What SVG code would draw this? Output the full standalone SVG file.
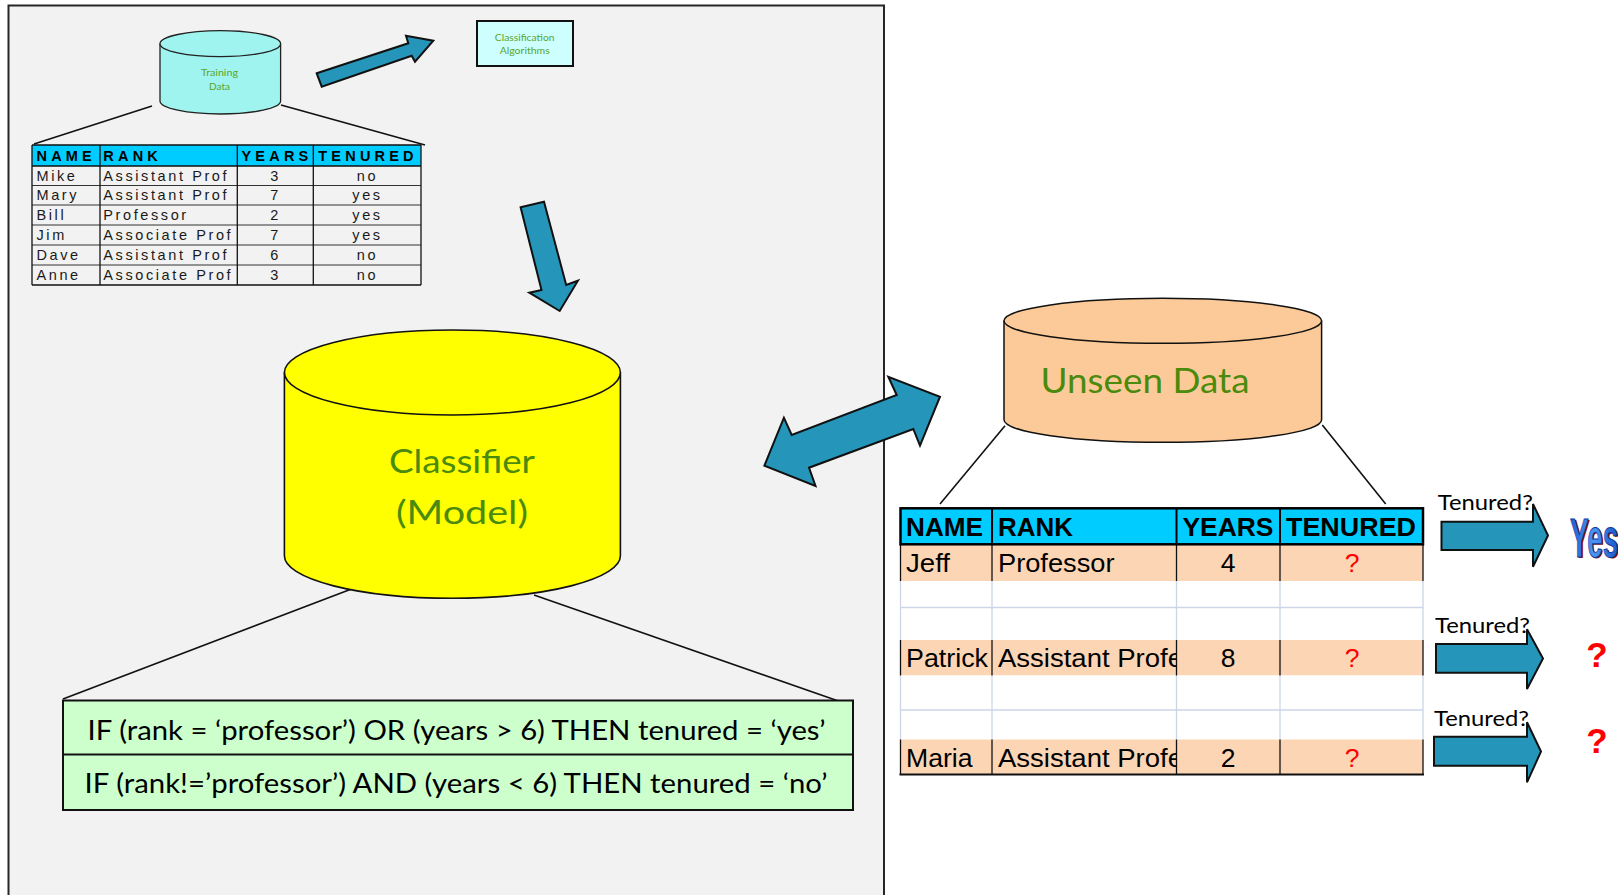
<svg xmlns="http://www.w3.org/2000/svg" width="1618" height="895" viewBox="0 0 1618 895">
<defs>
<style>
.cal{font-family:Lato,"Open Sans","Liberation Sans",sans-serif;}
.green{fill:#4a8a0c;}
.lgreen{fill:#5aa52a;}
.barrow{fill:#2596b9;stroke:#111;stroke-width:2;stroke-linejoin:miter;}
.conn{stroke:#111;stroke-width:1.6;fill:none;}
.th{font-family:"Liberation Sans",Arial,sans-serif;font-weight:bold;font-size:14.5px;letter-spacing:4.2px;fill:#000;}
.td{font-family:"Liberation Sans",Arial,sans-serif;font-size:14.5px;letter-spacing:2.6px;fill:#1a1a1a;}
.tdc{font-family:"Liberation Sans",Arial,sans-serif;font-size:14.5px;fill:#1a1a1a;text-anchor:middle;}
.uh{font-family:"Liberation Sans",Arial,sans-serif;font-weight:bold;font-size:26.5px;fill:#000;}
.ud{font-family:"Liberation Sans",Arial,sans-serif;font-size:26.5px;fill:#000;}
.uq{font-family:"Liberation Sans",Arial,sans-serif;font-size:26.5px;fill:#ff0000;text-anchor:middle;}
.ten{font-family:Lato,"Open Sans",sans-serif;font-size:21px;fill:#000;}
.rq{font-family:"Liberation Sans",Arial,sans-serif;font-weight:bold;font-size:35px;fill:#ff0000;text-anchor:middle;}
.tgrid{stroke:#111;stroke-width:1.3;}
.lgrid{stroke:#cdd6e6;stroke-width:1.3;}
</style>
<linearGradient id="yesg" x1="0" y1="0" x2="1" y2="0">
<stop offset="0" stop-color="#1d5fd6"/>
<stop offset="0.5" stop-color="#4d95f2"/>
<stop offset="1" stop-color="#1b56c8"/>
</linearGradient>
<clipPath id="rankclip"><rect x="992" y="600" width="184.5" height="180"/></clipPath>
</defs>

<rect x="0" y="0" width="1618" height="895" fill="#ffffff"/>

<g id="panel">
<rect x="8.5" y="5.5" width="875.5" height="900" fill="#f2f2f2" stroke="#262626" stroke-width="2"/>
</g>

<g id="connectors">
<line class="conn" x1="152" y1="106" x2="34" y2="144" stroke-width="2"/>
<line class="conn" x1="281" y1="105" x2="425" y2="145" stroke-width="2"/>
<line class="conn" x1="357.4" y1="586.7" x2="63" y2="699"/>
<line class="conn" x1="534" y1="595" x2="852.7" y2="706"/>
<line class="conn" x1="1005" y1="425.7" x2="940" y2="504"/>
<line class="conn" x1="1322.3" y1="425" x2="1385.7" y2="504"/>
<polygon id="arrow-train-algo" class="barrow" points="316.7,73.3 408.3,43.3 406,35.7 433.3,40.7 415,61.7 411.7,55.7 321.7,86.7"/>
<polygon id="arrow-down" class="barrow" points="520.6,207.3 544,201.7 566.2,285 577.9,280.7 559.7,311 529.3,292.7 541.5,290"/>
<polygon id="arrow-double" class="barrow" points="764.4,465.7 783.9,417.7 791.7,435 896.7,395 888.3,376.7 940,396.7 920,445.7 913.3,429 809,467.7 815.5,486"/>
<polygon id="arrow-t1" class="barrow" points="1441.5,521.7 1533,521.7 1533,504 1548,535.5 1533,566.7 1533,550 1441.5,550"/>
<polygon id="arrow-t2" class="barrow" points="1436,644 1527,644 1527,629.3 1543,658.5 1527,689 1527,672.7 1436,672.7"/>
<polygon id="arrow-t3" class="barrow" points="1434,736.7 1527,736.7 1527,722.3 1541,751.5 1527,782.3 1527,765.7 1434,765.7"/>
</g>

<g id="training-data">
<path d="M160,43.7 L160,101 A60.3,13 0 0 0 280.6,101 L280.6,43.7" fill="#a0f4f0" stroke="#222" stroke-width="1.3"/>
<ellipse cx="220.3" cy="43.7" rx="60.3" ry="13" fill="#a0f4f0" stroke="#222" stroke-width="1.3"/>
<text class="cal lgreen" x="219.5" y="76" font-size="10" text-anchor="middle" textLength="37" lengthAdjust="spacingAndGlyphs">Training</text>
<text class="cal lgreen" x="219.5" y="89.5" font-size="10" text-anchor="middle" textLength="21" lengthAdjust="spacingAndGlyphs">Data</text>
</g>

<g id="classification-algorithms">
<rect x="477" y="21" width="96" height="45" fill="#ccfffe" stroke="#111" stroke-width="2"/>
<text class="cal lgreen" x="524.7" y="41" font-size="9.5" text-anchor="middle" textLength="59.7" lengthAdjust="spacingAndGlyphs">Classification</text>
<text class="cal lgreen" x="524.7" y="54" font-size="9.5" text-anchor="middle" textLength="50" lengthAdjust="spacingAndGlyphs">Algorithms</text>
</g>

<g id="training-table">
<rect x="32" y="145" width="389" height="21" fill="#00ccff"/>
<line class="tgrid" x1="32" y1="145" x2="421" y2="145" stroke-width="1.6"/>
<line class="tgrid" x1="32" y1="166" x2="421" y2="166" stroke-width="1.6"/>
<line x1="32" y1="185.5" x2="421" y2="185.5" stroke="#333" stroke-width="1.1"/>
<line x1="32" y1="205" x2="421" y2="205" stroke="#333" stroke-width="1.1"/>
<line x1="32" y1="225" x2="421" y2="225" stroke="#333" stroke-width="1.1"/>
<line x1="32" y1="245" x2="421" y2="245" stroke="#333" stroke-width="1.1"/>
<line x1="32" y1="265" x2="421" y2="265" stroke="#333" stroke-width="1.1"/>
<line class="tgrid" x1="32" y1="285" x2="421" y2="285" stroke-width="1.8"/>
<line class="tgrid" x1="32" y1="145" x2="32" y2="285"/>
<line class="tgrid" x1="100" y1="145" x2="100" y2="285"/>
<line class="tgrid" x1="237.3" y1="145" x2="237.3" y2="285"/>
<line class="tgrid" x1="313.3" y1="145" x2="313.3" y2="285"/>
<line class="tgrid" x1="421" y1="145" x2="421" y2="285"/>
<text class="th" x="36.5" y="160.5">NAME</text>
<text class="th" x="103.3" y="160.5">RANK</text>
<text class="th" x="241.5" y="160.5">YEARS</text>
<text class="th" x="318.3" y="160.5">TENURED</text>
<text class="td" x="36.5" y="180.5">Mike</text>
<text class="td" x="103.3" y="180.5">Assistant Prof</text>
<text class="tdc" x="274.3" y="180.5">3</text>
<text class="td" x="367.5" y="180.5" text-anchor="middle">no</text>
<text class="td" x="36.5" y="200">Mary</text>
<text class="td" x="103.3" y="200">Assistant Prof</text>
<text class="tdc" x="274.3" y="200">7</text>
<text class="td" x="367.5" y="200" text-anchor="middle">yes</text>
<text class="td" x="36.5" y="220">Bill</text>
<text class="td" x="103.3" y="220">Professor</text>
<text class="tdc" x="274.3" y="220">2</text>
<text class="td" x="367.5" y="220" text-anchor="middle">yes</text>
<text class="td" x="36.5" y="240">Jim</text>
<text class="td" x="103.3" y="240">Associate Prof</text>
<text class="tdc" x="274.3" y="240">7</text>
<text class="td" x="367.5" y="240" text-anchor="middle">yes</text>
<text class="td" x="36.5" y="260">Dave</text>
<text class="td" x="103.3" y="260">Assistant Prof</text>
<text class="tdc" x="274.3" y="260">6</text>
<text class="td" x="367.5" y="260" text-anchor="middle">no</text>
<text class="td" x="36.5" y="279.8">Anne</text>
<text class="td" x="103.3" y="279.8">Associate Prof</text>
<text class="tdc" x="274.3" y="279.8">3</text>
<text class="td" x="367.5" y="279.8" text-anchor="middle">no</text>
</g>

<g id="classifier">
<path d="M284.4,372.5 L284.4,555.8 A168,42.5 0 0 0 620.4,555.8 L620.4,372.5" fill="#ffff00" stroke="#111" stroke-width="1.6"/>
<ellipse cx="452.4" cy="372.5" rx="168" ry="42.5" fill="#ffff00" stroke="#111" stroke-width="1.6"/>
<text class="cal green" x="462" y="473" font-size="32" text-anchor="middle" textLength="146" lengthAdjust="spacingAndGlyphs">Classifier</text>
<text class="cal green" x="462" y="524" font-size="32" text-anchor="middle" textLength="132" lengthAdjust="spacingAndGlyphs">(Model)</text>
</g>

<g id="rules">
<rect x="63" y="700.5" width="790" height="109.5" fill="#ccffcc" stroke="#111" stroke-width="2"/>
<line x1="63" y1="754.5" x2="853" y2="754.5" stroke="#111" stroke-width="2"/>
<text class="cal" x="456.6" y="740" font-size="27" text-anchor="middle" fill="#000" textLength="738" lengthAdjust="spacingAndGlyphs">IF (rank = ‘professor’) OR (years &gt; 6) THEN tenured = ‘yes’</text>
<text class="cal" x="456.1" y="793.3" font-size="27" text-anchor="middle" fill="#000" textLength="743" lengthAdjust="spacingAndGlyphs">IF (rank!=’professor’) AND (years &lt; 6) THEN tenured = ‘no’</text>
</g>

<g id="unseen-data">
<path d="M1004,320.8 L1004,419.8 A158.8,22.5 0 0 0 1321.6,419.8 L1321.6,320.8" fill="#fcca98" stroke="#111" stroke-width="1.5"/>
<ellipse cx="1162.8" cy="320.8" rx="158.8" ry="22.5" fill="#fcca98" stroke="#111" stroke-width="1.5"/>
<text class="cal green" x="1145" y="392.7" font-size="34" text-anchor="middle" textLength="209" lengthAdjust="spacingAndGlyphs">Unseen Data</text>
</g>

<g id="unseen-table">
<rect x="900.5" y="544" width="522.5" height="37" fill="#fcd5b4"/>
<rect x="900.5" y="581" width="522.5" height="59" fill="#ffffff"/>
<rect x="900.5" y="640" width="522.5" height="35.5" fill="#fcd5b4"/>
<rect x="900.5" y="675.5" width="522.5" height="64" fill="#ffffff"/>
<rect x="900.5" y="739.5" width="522.5" height="35" fill="#fcd5b4"/>
<line class="lgrid" x1="900.5" y1="607.5" x2="1423" y2="607.5"/>
<line class="lgrid" x1="900.5" y1="710" x2="1423" y2="710"/>
<line class="lgrid" x1="900.5" y1="581" x2="900.5" y2="640"/>
<line class="lgrid" x1="992" y1="581" x2="992" y2="640"/>
<line class="lgrid" x1="1176.5" y1="581" x2="1176.5" y2="640"/>
<line class="lgrid" x1="1280" y1="581" x2="1280" y2="640"/>
<line class="lgrid" x1="1423" y1="581" x2="1423" y2="640"/>
<line class="lgrid" x1="900.5" y1="675.5" x2="900.5" y2="739.5"/>
<line class="lgrid" x1="992" y1="675.5" x2="992" y2="739.5"/>
<line class="lgrid" x1="1176.5" y1="675.5" x2="1176.5" y2="739.5"/>
<line class="lgrid" x1="1280" y1="675.5" x2="1280" y2="739.5"/>
<line class="lgrid" x1="1423" y1="675.5" x2="1423" y2="739.5"/>
<line class="tgrid" x1="900.5" y1="544" x2="900.5" y2="581"/>
<line class="tgrid" x1="992" y1="544" x2="992" y2="581"/>
<line class="tgrid" x1="1176.5" y1="544" x2="1176.5" y2="581"/>
<line class="tgrid" x1="1280" y1="544" x2="1280" y2="581"/>
<line class="tgrid" x1="1423" y1="544" x2="1423" y2="581"/>
<line class="tgrid" x1="900.5" y1="640" x2="900.5" y2="675.5"/>
<line class="tgrid" x1="992" y1="640" x2="992" y2="675.5"/>
<line class="tgrid" x1="1176.5" y1="640" x2="1176.5" y2="675.5"/>
<line class="tgrid" x1="1280" y1="640" x2="1280" y2="675.5"/>
<line class="tgrid" x1="1423" y1="640" x2="1423" y2="675.5"/>
<line class="tgrid" x1="900.5" y1="739.5" x2="900.5" y2="774.5"/>
<line class="tgrid" x1="992" y1="739.5" x2="992" y2="774.5"/>
<line class="tgrid" x1="1176.5" y1="739.5" x2="1176.5" y2="774.5"/>
<line class="tgrid" x1="1280" y1="739.5" x2="1280" y2="774.5"/>
<line class="tgrid" x1="1423" y1="739.5" x2="1423" y2="774.5"/>
<line x1="899.5" y1="774.5" x2="1424" y2="774.5" stroke="#111" stroke-width="2"/>
<rect x="900.5" y="508.3" width="522.5" height="36" fill="#00ccff" stroke="#000" stroke-width="2.5"/>
<line x1="992" y1="508.3" x2="992" y2="544.3" stroke="#000" stroke-width="2"/>
<line x1="1176.5" y1="508.3" x2="1176.5" y2="544.3" stroke="#000" stroke-width="2"/>
<line x1="1280" y1="508.3" x2="1280" y2="544.3" stroke="#000" stroke-width="2"/>
<text class="uh" x="906" y="535.7" textLength="77" lengthAdjust="spacingAndGlyphs">NAME</text>
<text class="uh" x="998" y="535.7" textLength="75" lengthAdjust="spacingAndGlyphs">RANK</text>
<text class="uh" x="1182.5" y="535.7" textLength="91" lengthAdjust="spacingAndGlyphs">YEARS</text>
<text class="uh" x="1286" y="535.7" textLength="130" lengthAdjust="spacingAndGlyphs">TENURED</text>
<text class="ud" x="906" y="572.3" textLength="44" lengthAdjust="spacingAndGlyphs">Jeff</text>
<text class="ud" x="998" y="572.3" textLength="116.5" lengthAdjust="spacingAndGlyphs">Professor</text>
<text class="ud" x="1228" y="572.3" text-anchor="middle">4</text>
<text class="uq" x="1352" y="572.3">?</text>
<text class="ud" x="906" y="666.7" textLength="82" lengthAdjust="spacingAndGlyphs">Patrick</text>
<text class="ud" x="998" y="666.7" clip-path="url(#rankclip)" textLength="185" lengthAdjust="spacingAndGlyphs">Assistant Profe</text>
<text class="ud" x="1228" y="666.7" text-anchor="middle">8</text>
<text class="uq" x="1352" y="666.7">?</text>
<text class="ud" x="906" y="766.7" textLength="66.5" lengthAdjust="spacingAndGlyphs">Maria</text>
<text class="ud" x="998" y="766.7" clip-path="url(#rankclip)" textLength="185" lengthAdjust="spacingAndGlyphs">Assistant Profe</text>
<text class="ud" x="1228" y="766.7" text-anchor="middle">2</text>
<text class="uq" x="1352" y="766.7">?</text>
</g>

<g id="predictions">
<text class="ten" x="1437.8" y="510" textLength="95" lengthAdjust="spacingAndGlyphs">Tenured?</text>
<text class="ten" x="1435" y="633.3" textLength="95" lengthAdjust="spacingAndGlyphs">Tenured?</text>
<text class="ten" x="1434" y="726" textLength="95" lengthAdjust="spacingAndGlyphs">Tenured?</text>
<g id="yes" transform="translate(1570,556.5) scale(0.5,1)">
<text x="3" y="1.5" font-family="Liberation Sans, Arial, sans-serif" font-weight="bold" font-size="56" fill="#9a0a0a">Yes</text>
<text x="0" y="0" font-family="Liberation Sans, Arial, sans-serif" font-weight="bold" font-size="56" fill="url(#yesg)" stroke="#0a3aa0" stroke-width="1">Yes</text>
</g>
<text class="rq" x="1597" y="666.7">?</text>
<text class="rq" x="1597" y="753.3">?</text>
</g>
</svg>
